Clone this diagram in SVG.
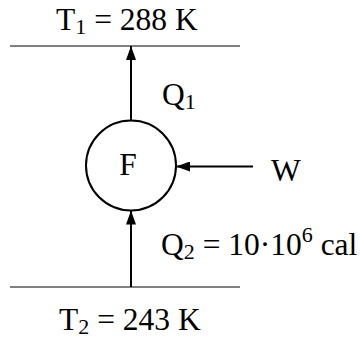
<svg xmlns="http://www.w3.org/2000/svg" width="360" height="338" viewBox="0 0 360 338">
<defs>
<style>
text{font-family:"Liberation Serif","Times New Roman",serif;font-size:31.5px;fill:#000}
.sub{font-size:22px}
.lvl{stroke:#000;stroke-width:1;fill:none}
.arr{stroke:#000;stroke-width:2;fill:none}
</style>
<marker id="ah" markerWidth="14" markerHeight="10" refX="14" refY="5" orient="auto" markerUnits="userSpaceOnUse">
<path d="M0,0 L14,5 L0,10 Z" fill="#000"/>
</marker>
</defs>
<rect width="360" height="338" fill="#fff"/>
<g id="hot">
<line class="lvl" x1="10" y1="46" x2="240" y2="46"/>
<text x="56" y="30">T<tspan class="sub" dy="4">1</tspan><tspan dy="-4"> = 288 K</tspan></text>
</g>
<g id="cold">
<line class="lvl" x1="10" y1="287" x2="240" y2="287"/>
<text x="59" y="330">T<tspan class="sub" dy="4">2</tspan><tspan dy="-4"> = 243 K</tspan></text>
</g>
<g id="engine">
<circle cx="131" cy="165.5" r="45" fill="#fff" stroke="#000" stroke-width="2"/>
<text x="128" y="175" text-anchor="middle">F</text>
</g>
<g id="connectors">
<line class="arr" x1="131" y1="120.5" x2="131" y2="46" marker-end="url(#ah)"/>
<line class="arr" x1="131" y1="287" x2="131" y2="210.5" marker-end="url(#ah)"/>
<line class="arr" x1="253" y1="166.5" x2="176" y2="166.5" marker-end="url(#ah)"/>
</g>
<g id="labels">
<text x="162" y="105">Q<tspan class="sub" dy="4">1</tspan></text>
<text x="271" y="181">W</text>
<text x="161" y="255">Q<tspan class="sub" dy="4">2</tspan><tspan dy="-4"> = 10·10</tspan><tspan class="sub" dy="-13">6</tspan><tspan dy="13"> cal</tspan></text>
</g>
</svg>
